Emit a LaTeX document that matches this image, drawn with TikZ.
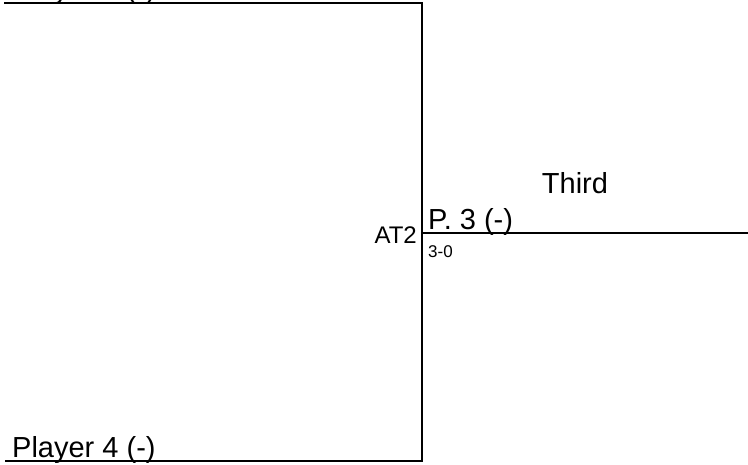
\documentclass[tikz,border=0pt]{standalone}
\usepackage{fontspec}
\setmainfont{Liberation Sans}
\usepackage{tikz}
\usetikzlibrary{positioning}

\begin{document}
\begin{tikzpicture}[
        x=1pt, y=1pt,
        line/.style={line width=2pt, line cap=rect},
        player/.style={inner sep=0pt, anchor=base west, font=\fontsize{29}{31}\selectfont},
        seed/.style={inner sep=0pt, anchor=base east, font=\fontsize{24}{26}\selectfont},
        score/.style={inner sep=0pt, anchor=north west, font=\fontsize{17}{19}\selectfont},
    ]
        \useasboundingbox (0,0) rectangle (748,465);

        % Bracket corners
        \coordinate (topL) at (5,461.5);
        \coordinate (topR) at (422,461.5);
        \coordinate (botL) at (6,4);
        \coordinate (botR) at (422,4);
        \coordinate (mid) at (422,232);
        \coordinate (winR) at (748,232);

        % Players
        \node[player] (p3) at (12,466) {Player 3 (-)};
        \node[player] (p4) at (12,7) {Player 4 (-)};

        % Match
        \node[seed] (match) at (417,221) {AT2};
        \node[player] (winner) at (428,235) {P. 3 (-)};
        \node[score, below right=12pt and 0pt of mid, xshift=6pt] (res) {3-0};
        \node[player, anchor=base] (place) at (575,271) {Third};

        % Lines
        \draw[line] (topL) -- (topR) -- (botR) -- (botL);
        \draw[line] (mid) -- (winR);
    \end{tikzpicture}
\end{document}
